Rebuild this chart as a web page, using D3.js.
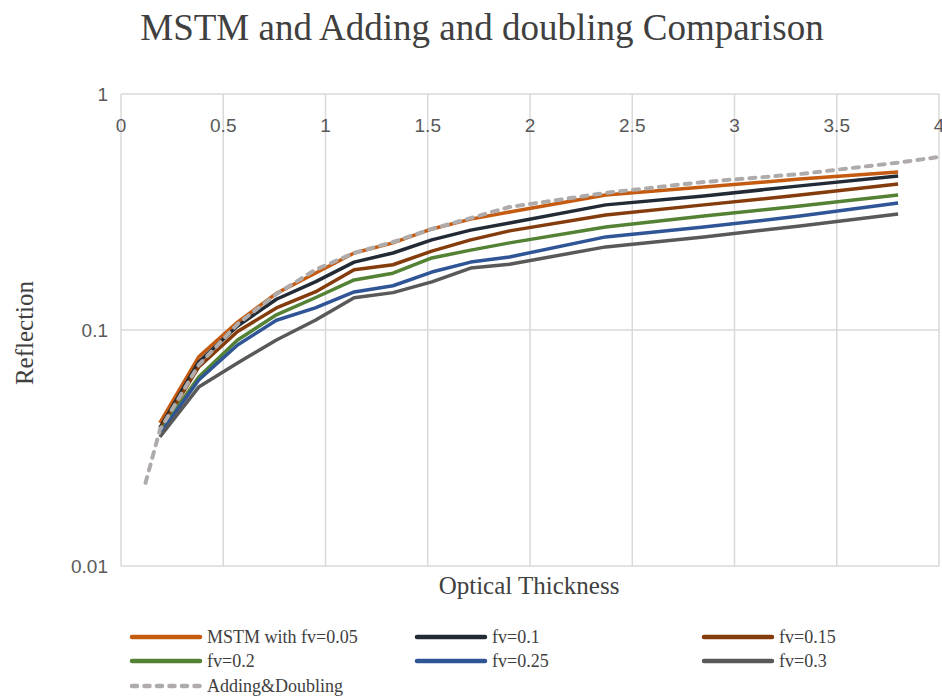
<!DOCTYPE html>
<html>
<head>
<meta charset="utf-8">
<script src="https://cdn.jsdelivr.net/npm/d3@7"></script>
<style>
  body { margin: 0; background: #fff; }
</style>
</head>
<body>
<div id="my_dataviz"></div>
<script>
// optical thickness points of the MSTM runs
var mstmX = [0.19, 0.38, 0.57, 0.76, 0.95, 1.14, 1.33, 1.52, 1.71, 1.9, 2.37, 2.85, 3.32, 3.8]

var fv005 = [0.0404, 0.0769, 0.108, 0.143, 0.174, 0.212, 0.234, 0.268, 0.295, 0.316, 0.373, 0.404, 0.436, 0.467]
var fv01  = [0.0385, 0.0732, 0.104, 0.135, 0.160, 0.194, 0.212, 0.241, 0.265, 0.284, 0.339, 0.370, 0.408, 0.449]
var fv015 = [0.0377, 0.0697, 0.0985, 0.124, 0.145, 0.180, 0.189, 0.216, 0.241, 0.263, 0.307, 0.339, 0.373, 0.416]
var fv02  = [0.0370, 0.0632, 0.0907, 0.116, 0.137, 0.163, 0.174, 0.202, 0.218, 0.234, 0.273, 0.304, 0.335, 0.373]
var fv025 = [0.0362, 0.0614, 0.0864, 0.110, 0.124, 0.145, 0.154, 0.176, 0.194, 0.204, 0.248, 0.273, 0.304, 0.345]
var fv03  = [0.0352, 0.0573, 0.0725, 0.0907, 0.110, 0.137, 0.144, 0.160, 0.183, 0.190, 0.225, 0.248, 0.276, 0.310]

// adding & doubling reference curve
var adX = [0.12, 0.19, 0.38, 0.57, 0.76, 0.95, 1.14, 1.33, 1.52, 1.71, 1.9, 2.37, 2.85, 3.32, 3.8, 4.0]
var adY = [0.0225, 0.0377, 0.0711, 0.106, 0.142, 0.180, 0.212, 0.236, 0.268, 0.298, 0.332, 0.381, 0.424, 0.458, 0.512, 0.541]

var seriesNames = ["MSTM with fv=0.05", "fv=0.1", "fv=0.15", "fv=0.2", "fv=0.25", "fv=0.3", "Adding&Doubling"]
var seriesColors = ["#c55a11", "#222a35", "#843c0c", "#548235", "#2f5597", "#595959", "#afabab"]

var xTicks = [0, 0.5, 1, 1.5, 2, 2.5, 3, 3.5, 4]
var yTicks = [1, 0.1, 0.01]

var width = 942
var height = 696

var svg = d3.select("#my_dataviz")
  .append("svg")
  .attr("width", width)
  .attr("height", height)

var x = d3.scaleLinear().domain([0, 4]).range([121, 939])
var y = d3.scaleLog().domain([0.01, 1]).range([566, 94])

// grid
svg.append("g").selectAll("line")
  .data(xTicks)
  .enter().append("line")
  .attr("x1", d => x(d)).attr("x2", d => x(d))
  .attr("y1", y(1)).attr("y2", y(0.01))
  .attr("stroke", "#d9d9d9")
  .attr("stroke-width", 1.5)

svg.append("g").selectAll("line")
  .data(yTicks)
  .enter().append("line")
  .attr("x1", x(0)).attr("x2", x(4))
  .attr("y1", d => y(d)).attr("y2", d => y(d))
  .attr("stroke", "#d9d9d9")
  .attr("stroke-width", 1.5)

// tick labels (x labels sit just under the top line)
svg.append("g").selectAll("text")
  .data(xTicks)
  .enter().append("text")
  .attr("x", d => x(d))
  .attr("y", 132)
  .attr("text-anchor", "middle")
  .style("font", "19px 'Liberation Sans', sans-serif")
  .style("fill", "#595959")
  .text(d => d)

svg.append("g").selectAll("text")
  .data(yTicks)
  .enter().append("text")
  .attr("x", 108)
  .attr("y", d => y(d) + 7)
  .attr("text-anchor", "end")
  .style("font", "19px 'Liberation Sans', sans-serif")
  .style("fill", "#595959")
  .text(d => d)

// titles
svg.append("text")
  .attr("x", 482).attr("y", 40)
  .attr("text-anchor", "middle")
  .style("font", "37px 'Liberation Serif', serif")
  .style("fill", "#404040")
  .text("MSTM and Adding and doubling Comparison")

svg.append("text")
  .attr("x", 529).attr("y", 594)
  .attr("text-anchor", "middle")
  .style("font", "25px 'Liberation Serif', serif")
  .style("fill", "#404040")
  .text("Optical Thickness")

svg.append("text")
  .attr("transform", "translate(33,333) rotate(-90)")
  .attr("text-anchor", "middle")
  .style("font", "25px 'Liberation Serif', serif")
  .style("fill", "#404040")
  .text("Reflection")

// lines
var line = d3.line()
  .x(d => x(d[0]))
  .y(d => y(d[1]))

var mstm = [fv005, fv01, fv015, fv02, fv025, fv03]
var data = mstm.map(vals => mstmX.map((t, i) => [t, vals[i]]))
data.push(adX.map((t, i) => [t, adY[i]]))

svg.append("g").selectAll("path")
  .data(data)
  .enter().append("path")
  .attr("d", line)
  .attr("fill", "none")
  .attr("stroke", (d, i) => seriesColors[i])
  .attr("stroke-width", (d, i) => i == 6 ? 4 : 3.5)
  .attr("stroke-dasharray", (d, i) => i == 6 ? "6,7" : null)
  .attr("stroke-linecap", (d, i) => i == 6 ? "round" : "butt")
  .attr("stroke-linejoin", "round")

// legend
var legX = [130, 415, 702]
var legY = [637, 661, 686]
var leg = svg.append("g").selectAll("g")
  .data(seriesNames)
  .enter().append("g")
  .attr("transform", (d, i) => "translate(" + legX[i % 3] + "," + legY[Math.floor(i / 3)] + ")")

leg.append("line")
  .attr("x1", 2).attr("x2", 70)
  .attr("stroke", (d, i) => seriesColors[i])
  .attr("stroke-width", 4.5)
  .attr("stroke-linecap", "round")
  .attr("stroke-dasharray", (d, i) => i == 6 ? "5,7.5" : null)

leg.append("text")
  .attr("x", 77)
  .attr("y", 6)
  .style("font", "18px 'Liberation Serif', serif")
  .style("fill", "#404040")
  .text(d => d)
</script>
</body>
</html>
